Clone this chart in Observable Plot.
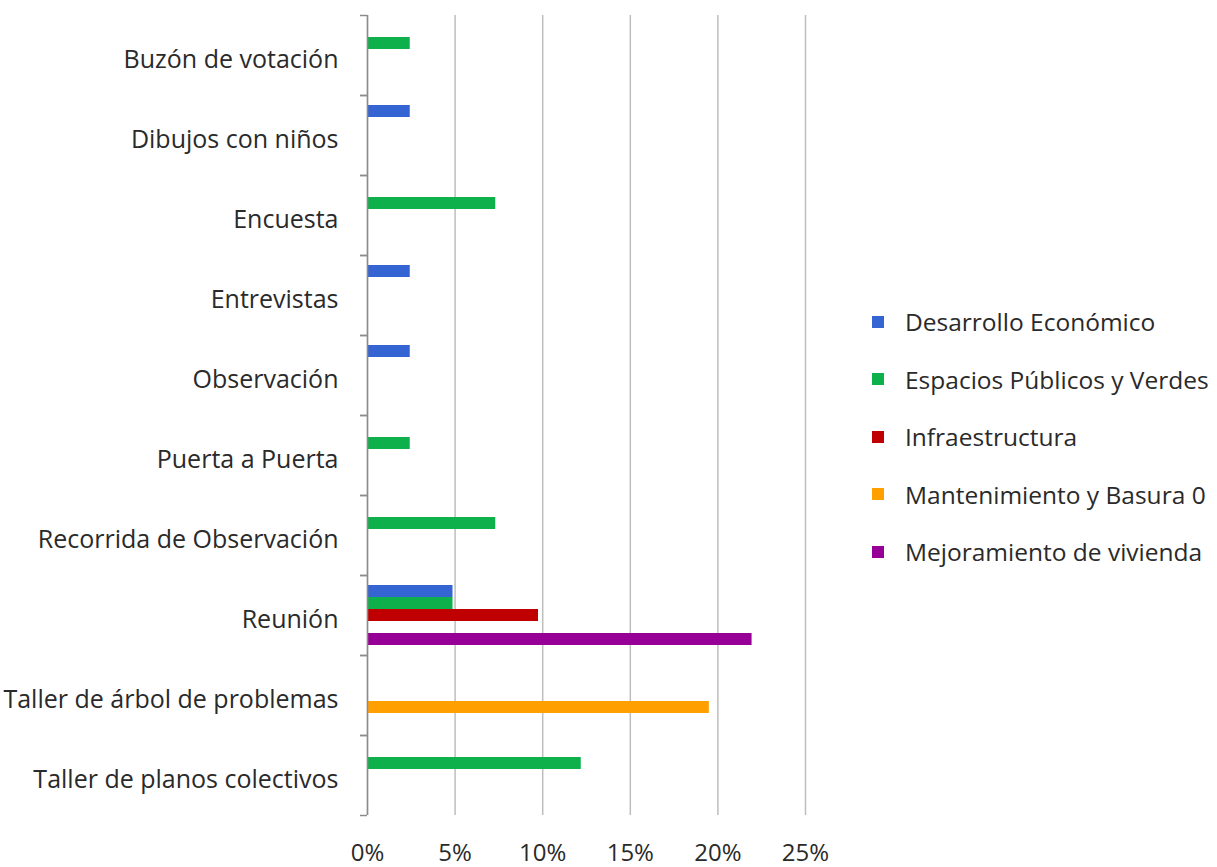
<!DOCTYPE html>
<html><head><meta charset="utf-8">
<script src="https://cdn.jsdelivr.net/npm/d3@7"></script>
<script src="https://cdn.jsdelivr.net/npm/@observablehq/plot@0.6"></script>
<style>
body{margin:0;background:#fff;}
#wrap{position:relative;width:1217px;height:867px;font-family:"Open Sans", sans-serif;overflow:hidden;}
#legend{position:absolute;left:872px;top:293px;}
.item{display:flex;align-items:center;height:57.5px;font-size:24.5px;color:#2a2a2a;white-space:nowrap}
.sw{width:12px;height:12px;margin-right:21px;flex:none}
</style></head><body><div id="wrap"></div>
<script>
const categories = ["Buzón de votación","Dibujos con niños","Encuesta","Entrevistas","Observación","Puerta a Puerta","Recorrida de Observación","Reunión","Taller de árbol de problemas","Taller de planos colectivos"];
const series = ["Desarrollo Económico","Espacios Públicos y Verdes","Infraestructura","Mantenimiento y Basura 0","Mejoramiento de vivienda"];
const colors = ["#3565d2","#0db04b","#c00000","#ffa000","#960096"];
const xTicks = [0,5,10,15,20,25];
const desarrollo    = [0, 2.44, 0, 2.44, 2.44, 0, 0, 4.88, 0, 0];
const espacios      = [2.44, 0, 7.32, 0, 0, 2.44, 7.32, 4.88, 0, 12.2];
const infra         = [0, 0, 0, 0, 0, 0, 0, 9.76, 0, 0];
const mantenimiento = [0, 0, 0, 0, 0, 0, 0, 0, 19.51, 0];
const mejoramiento  = [0, 0, 0, 0, 0, 0, 0, 21.95, 0, 0];
const values = [desarrollo, espacios, infra, mantenimiento, mejoramiento];

const data = categories.flatMap((c,i)=> series.map((s,j)=>({category:c, series:s, value:values[j][i]}))).filter(d=>d.value>0);

const chart = Plot.plot({
  width:1217, height:867, marginLeft:367, marginRight:412, marginTop:15, marginBottom:52,
  style:{fontFamily:"'Open Sans', sans-serif", fontSize:"24px", color:"#2a2a2a", background:"#fff"},
  x:{domain:[0,25], ticks:xTicks},
  y:{domain:series, paddingInner:0, paddingOuter:0.75, axis:null},
  fy:{domain:categories, padding:0, axis:null},
  color:{domain:series, range:colors},
  marks:[
    Plot.gridX(xTicks, {stroke:"#bdbdbd", strokeOpacity:1, strokeWidth:1.5}),
    Plot.barX(data, {x:"value", y:"series", fy:"category", fill:"series"}),
    Plot.ruleX([0], {stroke:"#8c8c8c", strokeWidth:1.5}),
    Plot.axisX(xTicks, {tickSize:0, tickPadding:28, tickFormat:d=>d+"%", label:null, fontSize:24}),
    Plot.axisFy({anchor:"left", tickSize:0, tickPadding:29, dy:4, label:null, fontSize:25}),
    Plot.axisFy({anchor:"left", tickSize:7, dy:-40, text:null, label:null, stroke:"#8c8c8c", strokeWidth:1.5}),
    Plot.axisFy([categories[categories.length-1]], {anchor:"left", tickSize:7, dy:40, text:null, label:null, stroke:"#8c8c8c", strokeWidth:1.5})
  ]
});
const wrap = document.getElementById("wrap");
wrap.appendChild(chart);
const legend = document.createElement("div");
legend.id = "legend";
series.forEach((s,i)=>{
  const it = document.createElement("div"); it.className="item";
  const sw = document.createElement("span"); sw.className="sw"; sw.style.background=colors[i];
  it.appendChild(sw); it.appendChild(document.createTextNode(s));
  legend.appendChild(it);
});
wrap.appendChild(legend);
</script></body></html>
